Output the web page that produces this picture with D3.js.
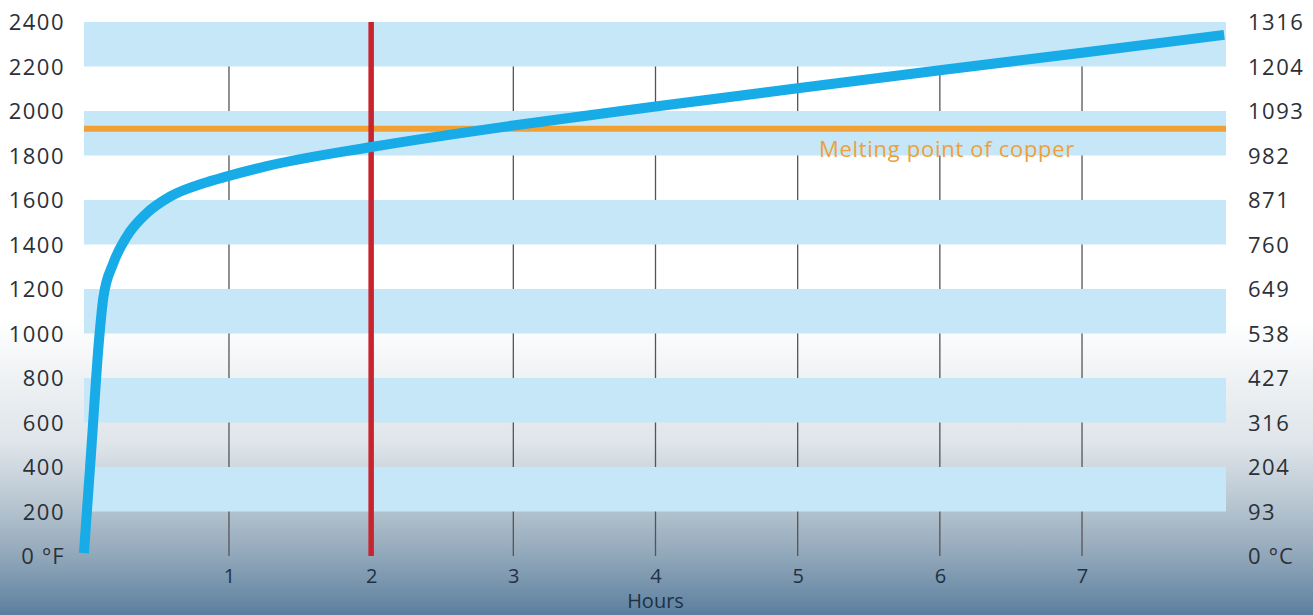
<!DOCTYPE html>
<html><head><meta charset="utf-8">
<script src="https://cdn.jsdelivr.net/npm/d3@7/dist/d3.min.js"></script>
<style>body{margin:0;overflow:hidden}svg{display:block}</style>
</head><body>
<svg id="c" width="1313" height="615"></svg>
<script>
const fTicks = [0,200,400,600,800,1000,1200,1400,1600,1800,2000,2200,2400];
const fLabels = ["0 ºF","200","400","600","800","1000","1200","1400","1600","1800","2000","2200","2400"];
const cLabels = ["0 ºC","93","204","316","427","538","649","760","871","982","1093","1204","1316"];
const hourTicks = [1,2,3,4,5,6,7];
const bands = [[200,400],[600,800],[1000,1200],[1400,1600],[1800,2000],[2200,2400]];
const markerHour = 2;
const meltingF = 1920;
const meltingLabel = "Melting point of copper";
const curveHours = [-0.02,0.033,0.086,0.117,0.186,0.28,0.42,0.585,0.82,0.98,1.265,2,3,4,5,6,7,8];
const curveTemps = [13,492,971,1164,1315,1435,1540,1615,1675,1705,1752,1838,1935,2020,2102,2183,2262,2342];

const svg = d3.select("#c");
const W=1313,H=615;
const x = d3.scaleLinear().domain([0,8]).range([86.8,1224.2]);
const y = d3.scaleLinear().domain([0,2400]).range([556,22]);
const left=84,right=1226;

const defs = svg.append("defs");
const g = defs.append("linearGradient").attr("id","bg").attr("x1",0).attr("y1",0).attr("x2",0).attr("y2",1);
[[0,"#ffffff"],[0.52,"#ffffff"],[0.62,"#eef1f3"],[0.72,"#dfe5ea"],[0.83,"#b3c2ce"],[0.91,"#8ea5b8"],[1,"#5b7f9f"]]
  .forEach(([o,c])=>g.append("stop").attr("offset",o).attr("stop-color",c));
svg.append("rect").attr("width",W).attr("height",H).attr("fill","url(#bg)");

// grid lines (under bands)
svg.append("g").selectAll("line").data(hourTicks).join("line")
  .attr("x1",d=>x(d)).attr("x2",d=>x(d)).attr("y1",y(2400)).attr("y2",y(0))
  .attr("stroke","#555").attr("stroke-width",1.3);

svg.append("g").selectAll("rect").data(bands).join("rect")
  .attr("x",left).attr("width",right-left)
  .attr("y",d=>y(d[1])).attr("height",d=>y(d[0])-y(d[1]))
  .attr("fill","#c6e7f8");

// melting line
svg.append("line").attr("x1",left).attr("x2",right).attr("y1",y(meltingF)).attr("y2",y(meltingF))
  .attr("stroke","#f0a035").attr("stroke-width",6);
svg.append("text").attr("x",x(5.15)).attr("y",y(meltingF)+28).text(meltingLabel)
  .attr("fill","#f0a035").attr("font-family","Open Sans").attr("font-size",22).attr("letter-spacing",0.7);

// red marker
svg.append("line").attr("x1",x(markerHour)).attr("x2",x(markerHour)).attr("y1",y(2400)).attr("y2",y(0))
  .attr("stroke","#c9242e").attr("stroke-width",5.5);

// curve
const pts = curveHours.map((h,i)=>[h,curveTemps[i]]);
svg.append("path").datum(pts)
  .attr("d",d3.line().x(d=>x(d[0])).y(d=>y(d[1])).curve(d3.curveMonotoneX))
  .attr("fill","none").attr("stroke","#17abe8").attr("stroke-width",10);

// axes
const yl = d3.axisLeft(y).tickValues(fTicks).tickSize(0).tickFormat((d,i)=>fLabels[i]);
const ga = svg.append("g").attr("transform","translate(68,0)").call(yl);
const yr = d3.axisRight(y).tickValues(fTicks).tickSize(0).tickFormat((d,i)=>cLabels[i]);
const gb = svg.append("g").attr("transform","translate(1245,0)").call(yr);
const xa = d3.axisBottom(x).tickValues(hourTicks).tickSize(0).tickFormat(d3.format("d"));
const gc = svg.append("g").attr("transform","translate(0,566)").call(xa);
[ga,gb,gc].forEach(a=>{a.select(".domain").remove();
  a.selectAll("text").attr("font-family","Open Sans").attr("fill","#2b3038").attr("letter-spacing",1.5);});
ga.selectAll("text").attr("font-size",22).attr("dx",0).attr("dy","0.35em");
gb.selectAll("text").attr("font-size",22).attr("dx",0).attr("dy","0.35em");
gc.selectAll("text").attr("font-size",20).attr("fill","#1e3144").attr("letter-spacing",0);
svg.append("text").attr("x",x(4)).attr("y",608).attr("text-anchor","middle").text("Hours")
  .attr("font-family","Open Sans").attr("font-size",20).attr("fill","#1e3144");
</script>
</body></html>
